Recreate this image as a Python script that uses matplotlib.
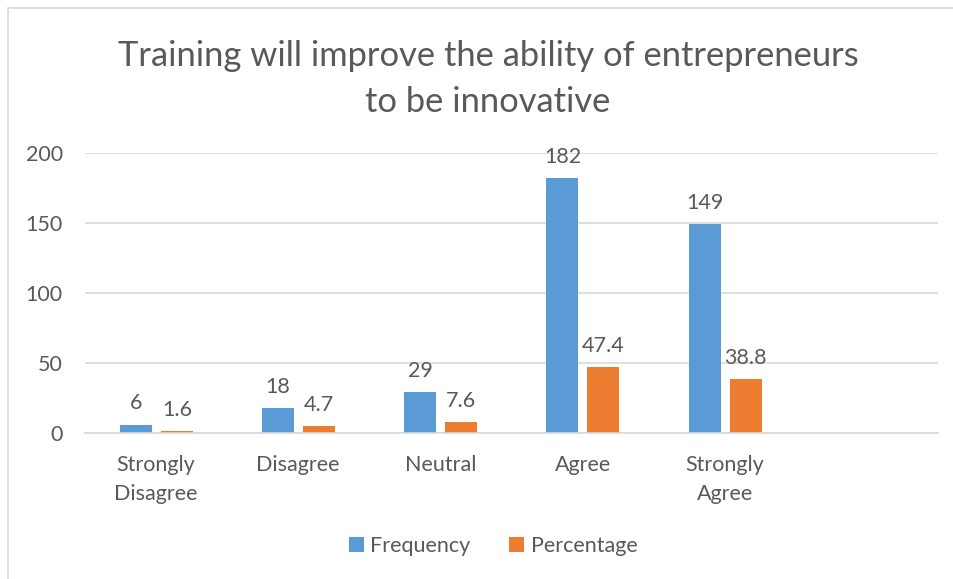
import numpy as np
import matplotlib
matplotlib.use('Agg')
from matplotlib import pyplot as plt
from matplotlib.patches import Rectangle

categories = ['Strongly\nDisagree', 'Disagree', 'Neutral', 'Agree', 'Strongly\nAgree']
frequency = [6, 18, 29, 182, 149]
percentage = [1.6, 4.7, 7.6, 47.4, 38.8]
labels_freq = ['6', '18', '29', '182', '149']
labels_pct = ['1.6', '4.7', '7.6', '47.4', '38.8']

blue = '#5B9BD5'
orange = '#ED7D31'
textc = '#595959'
gridc = '#D9D9D9'
fs = 15.5

plt.rcParams['font.family'] = ['Lato', 'DejaVu Sans']

W, H = 954, 579
fig = plt.figure(figsize=(W / 100, H / 100), dpi=100)
fig.patch.set_facecolor('white')

# chart frame (left and top edges inside the image)
fig.add_artist(Rectangle((8 / W, -0.1), 1.2, 1 - 8 / H + 0.1, transform=fig.transFigure,
                         fill=False, edgecolor=gridc, linewidth=1.2))

ax = fig.add_axes([85 / W, 1 - 433 / H, (938 - 85) / W, (433 - 153) / H])
x = np.arange(len(categories))
bw = 0.225
ax.bar(x - 0.142, frequency, bw, color=blue, label='Frequency', zorder=3)
ax.bar(x + 0.146, percentage, bw, color=orange, label='Percentage', zorder=3)

for xi, v, s in zip(x, frequency, labels_freq):
    ax.annotate(s, (xi - 0.142, v), xytext=(0, 8), textcoords='offset points',
                ha='center', va='bottom', fontsize=fs, color=textc)
for xi, v, s in zip(x, percentage, labels_pct):
    ax.annotate(s, (xi + 0.146, v), xytext=(0, 8), textcoords='offset points',
                ha='center', va='bottom', fontsize=fs, color=textc)

ax.set_xlim(-0.5, 5.5)
ax.set_ylim(0, 200)
ax.set_yticks([0, 50, 100, 150, 200])
ax.set_xticks(x)
ax.set_xticklabels(categories, linespacing=1.55)
ax.tick_params(axis='both', length=0, labelsize=fs, colors=textc)
ax.tick_params(axis='y', pad=16)
ax.tick_params(axis='x', pad=16)
ax.grid(axis='y', color=gridc, linewidth=1.2, zorder=0)
for side in ['top', 'right', 'left']:
    ax.spines[side].set_visible(False)
ax.spines['bottom'].set_color(gridc)
ax.spines['bottom'].set_linewidth(1.2)
ax.spines['bottom'].set_zorder(4)

fig.text(488 / W, 1 - 79 / H, 'Training will improve the ability of entrepreneurs\nto be innovative',
         ha='center', va='center', fontsize=24.8, color=textc, linespacing=1.5)

fig.legend(loc='center', bbox_to_anchor=(493 / W, 1 - 546 / H), ncol=2, frameon=False,
           fontsize=fs, labelcolor=textc, handlelength=0.7, handleheight=0.7,
           handletextpad=0.3, columnspacing=1.8)

fig.savefig('out.png', dpi=100)
